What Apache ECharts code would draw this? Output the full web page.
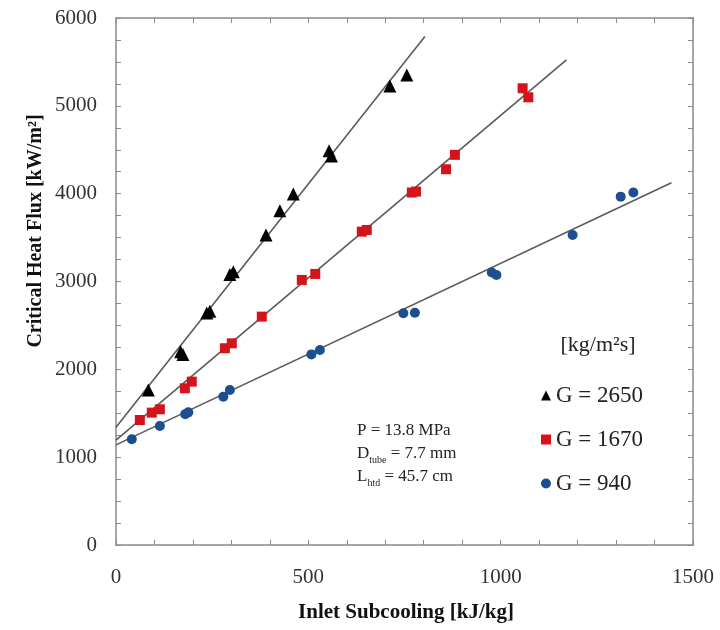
<!DOCTYPE html>
<html><head><meta charset="utf-8">
<script src="https://cdn.jsdelivr.net/npm/echarts@6/dist/echarts.min.js"></script>
<style>html,body{margin:0;padding:0;background:#fff}#c{width:720px;height:630px}</style>
</head><body><div id="c"></div>
<script>
// Data (Inlet subcooling kJ/kg, CHF kW/m2)
const g2650 = [[84,1765],[168,2200],[174,2170],[236,2640],[244,2660],[296,3080],[305,3110],[390,3530],[426,3806],[461,3997],[554,4490],[560,4430],[712,5226],[756,5352]];
const g1670 = [[62,1423],[93,1507],[114,1545],[179,1784],[197,1860],[283,2240],[301,2296],[379,2600],[483,3018],[518,3086],[639,3568],[652,3587],[769,4013],[780,4024],[858,4278],[881,4442],[1057,5200],[1072,5097]];
const g940 = [[41,1203],[114,1355],[180,1490],[188,1510],[279,1689],[296,1765],[508,2170],[530,2220],[747,2638],[777,2645],[977,3102],[989,3075],[1187,3530],[1312,3966],[1345,4013]];
const fit2650 = [[0,1340],[803,5788]];
const fit1670 = [[0,1195],[1171,5522]];
const fit940 = [[0,1140],[1444,4125]];
const seriesNames = ['G = 2650','G = 1670','G = 940'];
const xTicks = [0,500,1000,1500];
const yTicks = [0,1000,2000,3000,4000,5000,6000];

const serif = 'Liberation Serif, Times New Roman, serif';
const axisCol = '#8a8a8a';
function baseAxis(extra){
  return Object.assign({
    axisLine:{show:true,onZero:false,lineStyle:{color:axisCol,width:1.5}},
    axisTick:{show:true,inside:true,length:5,lineStyle:{color:axisCol}},
    splitLine:{show:false}
  }, extra);
}
const chart = echarts.init(document.getElementById('c'));
chart.setOption({
  backgroundColor:'#fff',
  animation:false,
  grid:{left:116,right:27,top:18,bottom:85},
  xAxis:[
    baseAxis({type:'value',min:0,max:1500,interval:100,position:'bottom',
      axisLabel:{margin:22,fontFamily:serif,fontSize:21,color:'#333',
        formatter:v=>xTicks.includes(v)?String(v):''}}),
    baseAxis({type:'value',min:0,max:1500,interval:100,position:'top',axisLabel:{show:false}})
  ],
  yAxis:[
    baseAxis({type:'value',min:0,max:6000,interval:250,position:'left',
      axisLabel:{margin:19,fontFamily:serif,fontSize:21,color:'#333',
        formatter:v=>yTicks.includes(v)?String(v):''}}),
    baseAxis({type:'value',min:0,max:6000,interval:250,position:'right',axisLabel:{show:false}})
  ],
  legend:{
    data:seriesNames,orient:'vertical',left:536,top:379,
    itemWidth:10,itemHeight:10,itemGap:21,
    textStyle:{fontFamily:serif,fontSize:23,color:'#222',lineHeight:22}
  },
  series:[
    {type:'line',data:fit2650,symbol:'none',lineStyle:{color:'#5a5a5a',width:1.6},z:1,silent:true},
    {type:'line',data:fit1670,symbol:'none',lineStyle:{color:'#5a5a5a',width:1.6},z:1,silent:true},
    {type:'line',data:fit940,symbol:'none',lineStyle:{color:'#5a5a5a',width:1.6},z:1,silent:true},
    {name:seriesNames[0],type:'scatter',data:g2650,symbol:'triangle',symbolSize:13,itemStyle:{color:'#000',opacity:1},z:3},
    {name:seriesNames[1],type:'scatter',data:g1670,symbol:'rect',symbolSize:10,itemStyle:{color:'#d4131b',opacity:1},z:3},
    {name:seriesNames[2],type:'scatter',data:g940,symbol:'circle',symbolSize:10,itemStyle:{color:'#1d4e8f',opacity:1},z:3}
  ],
  graphic:[
    {type:'text',x:36,y:231,rotation:Math.PI/2,style:{text:'Critical Heat Flux [kW/m²]',font:'bold 20px '+serif,fill:'#111',align:'center',verticalAlign:'middle'}},
    {type:'text',x:406,y:613,style:{text:'Inlet Subcooling [kJ/kg]',font:'bold 21px '+serif,fill:'#111',align:'center',verticalAlign:'middle'}},
    {type:'text',x:598,y:345,style:{text:'[kg/m²s]',font:'22px '+serif,fill:'#222',align:'center',verticalAlign:'middle'}},
    {type:'text',x:357,y:419,style:{
      text:'P = 13.8 MPa\nD{s|tube} = 7.7 mm\nL{s|htd} = 45.7 cm',
      font:'17px '+serif,fill:'#222',lineHeight:23,
      rich:{s:{fontSize:10,fontFamily:serif,fill:'#222',verticalAlign:'bottom',padding:[8,0,0,0]}}
    }}
  ]
});
</script></body></html>
